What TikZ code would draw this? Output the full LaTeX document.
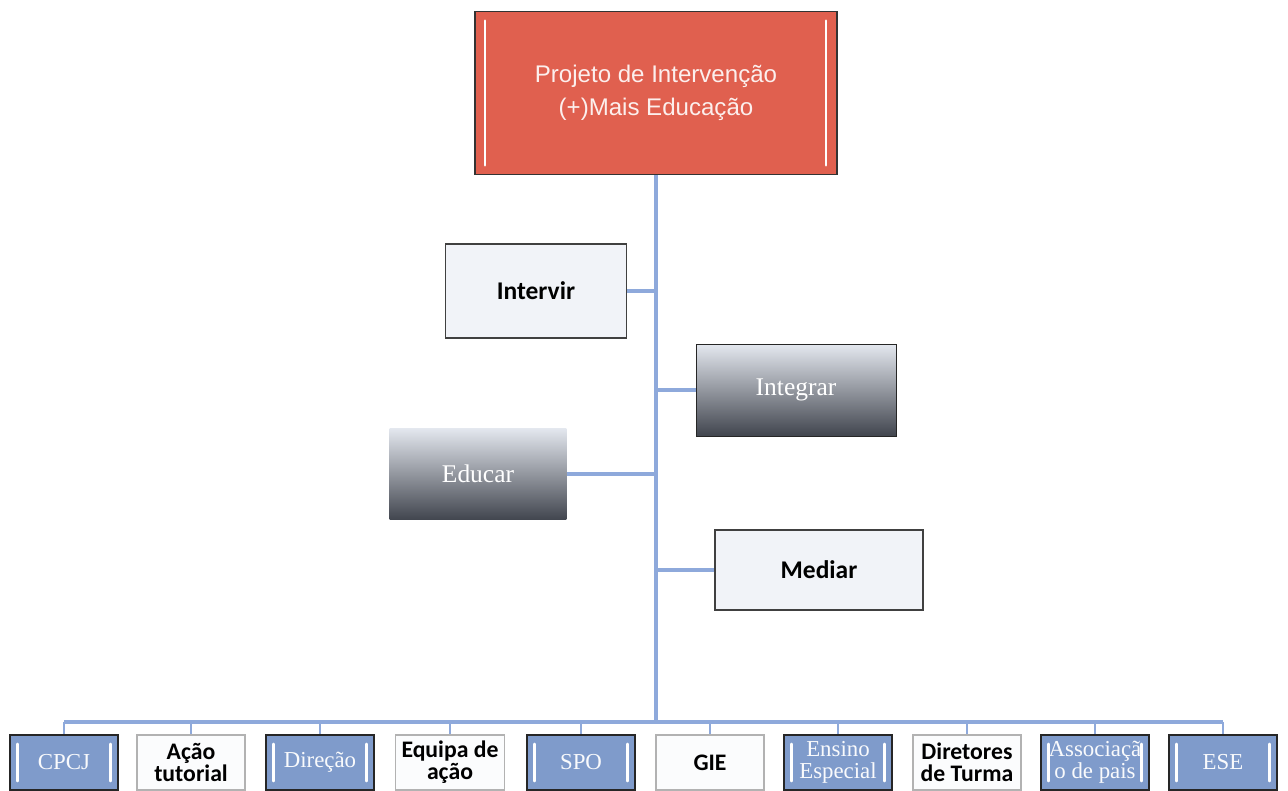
\documentclass[tikz,border=0pt]{standalone}
\usepackage{fontspec}
\setmainfont{Carlito}
\newfontfamily\arialfont{Liberation Sans}
\newfontfamily\cambfont{Liberation Serif}
\definecolor{topred}{HTML}{E0604F}
\definecolor{linkblue}{HTML}{8EA9DB}
\definecolor{boxblue}{HTML}{7F9BCB}
\definecolor{paleblue}{HTML}{F1F3F8}
\definecolor{lightgrad}{HTML}{E4E8EF}
\definecolor{midgrad}{HTML}{BCC1C9}
\definecolor{darkgrad}{HTML}{41454E}

\begin{document}
\begin{tikzpicture}[x=0.02cm, y=-0.02cm,
  link/.style={linkblue, line width=2pt},
  topbox/.style={draw=black!80, fill=topred, line width=1pt, minimum width=7.24cm,
    minimum height=3.26cm, text=white!90!topred, align=center,
    font=\arialfont\fontsize{13.7}{19}\selectfont},
  whitebox/.style={draw=black!75, fill=paleblue, line width=0.8pt,
    font=\bfseries\fontsize{14.5}{16}\selectfont},
  shadebox/.style={top color=lightgrad, middle color=midgrad, bottom color=darkgrad,
    text=white, font=\cambfont\fontsize{14.5}{16}\selectfont},
  bluebox/.style={draw=black!85, fill=boxblue, line width=1.2pt, text=white!95!boxblue,
    minimum width=2.16cm, minimum height=1.1cm, align=center,
    font=\cambfont\fontsize{13}{12.5}\selectfont},
  plainbox/.style={draw=black!30, fill=white!97!boxblue, line width=0.6pt,
    minimum width=2.16cm, minimum height=1.1cm, align=center,
    font=\bfseries\fontsize{13.5}{12.5}\selectfont},
  bar/.style={white, line width=1.6pt, line cap=round}]
  \useasboundingbox (0,0) rectangle (1288,791);

  % Project box
  \node[topbox] (proj) at (656,93) {Projeto de Intervenção\\(+)Mais Educação};
  \draw[bar, line width=1.4pt] ([xshift=0.22cm,yshift=-0.2cm]proj.north west) -- ([xshift=0.22cm,yshift=0.2cm]proj.south west);
  \draw[bar, line width=1.4pt] ([xshift=-0.24cm,yshift=-0.2cm]proj.north east) -- ([xshift=-0.24cm,yshift=0.2cm]proj.south east);

  % Actions
  \node[whitebox, minimum width=3.62cm, minimum height=1.88cm] (intervir) at (536,291) {Intervir};
  \node[shadebox, draw=black!85, minimum width=4cm, minimum height=1.84cm] (integrar) at (796,390) {Integrar};
  \node[shadebox, minimum width=3.54cm, minimum height=1.84cm] (educar) at (478,474) {Educar};
  \node[whitebox, minimum width=4.16cm, minimum height=1.6cm] (mediar) at (819,570) {Mediar};

  % Trunk and branches
  \coordinate (bus) at (656,722);
  \draw[link] (proj.south) -- (bus);
  \foreach \n in {intervir,educar}
    \draw[link] (\n.east) -- (\n.east -| bus);
  \foreach \n in {integrar,mediar}
    \draw[link] (\n.west) -- (\n.west -| bus);

  % Partners
  \node[bluebox] (cpcj) at (64,762.5) {CPCJ};
  \node[plainbox] (tutorial) at (191,762.5) {Ação\\tutorial};
  \node[bluebox] (direcao) at (320,762.5) {Direção};
  \node[plainbox] (equipa) at (450,762.5) {Equipa de\\ação};
  \node[bluebox] (spo) at (581,762.5) {SPO};
  \node[plainbox] (gie) at (710,762.5) {GIE};
  \node[bluebox] (ensino) at (838,762.5) {Ensino\\Especial};
  \node[plainbox] (diretores) at (967,762.5) {Diretores\\de Turma};
  \node[bluebox] (assoc) at (1095,762.5) {Associaçã\\o de pais};
  \node[bluebox] (ese) at (1223,762.5) {ESE};

  \draw[link, line width=1.8pt] (cpcj.north |- bus) -- (ese.north |- bus);
  \foreach \n in {cpcj,tutorial,direcao,equipa,spo,gie,ensino,diretores,assoc,ese}
    \draw[link, line width=1.6pt] (\n.north |- bus) -- (\n.north);

  % white brackets on the blue boxes
  \foreach \n in {cpcj,direcao,spo,ensino,assoc,ese} {
    \draw[bar] ([xshift=0.17cm,yshift=-0.2cm]\n.north west) -- ([xshift=0.17cm,yshift=0.2cm]\n.south west);
    \draw[bar] ([xshift=-0.17cm,yshift=-0.2cm]\n.north east) -- ([xshift=-0.17cm,yshift=0.2cm]\n.south east);
  }
\end{tikzpicture}
\end{document}
